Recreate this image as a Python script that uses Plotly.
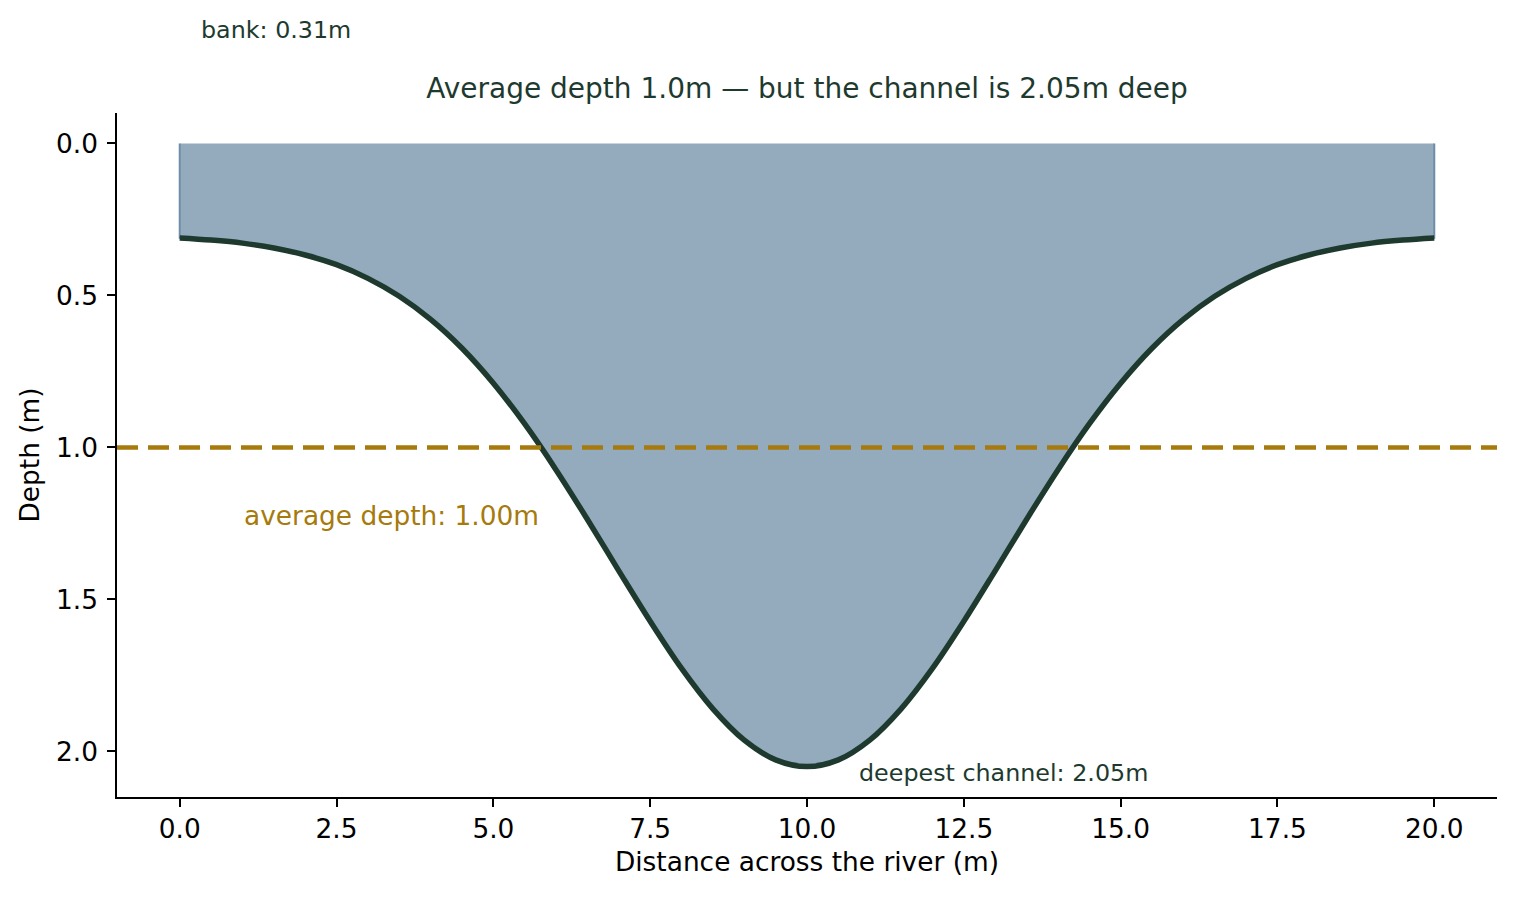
import plotly.graph_objects as go

# distance across the river (m) and measured depth (m)
distance = [0.0, 0.5, 1.0, 1.5, 2.0, 2.5, 3.0, 3.5, 4.0, 4.5, 5.0, 5.5, 6.0, 6.5,
            7.0, 7.5, 8.0, 8.5, 9.0, 9.5, 10.0, 10.5, 11.0, 11.5, 12.0, 12.5,
            13.0, 13.5, 14.0, 14.5, 15.0, 15.5, 16.0, 16.5, 17.0, 17.5, 18.0,
            18.5, 19.0, 19.5, 20.0]
depth = [0.311, 0.318, 0.328, 0.344, 0.367, 0.399, 0.444, 0.503, 0.579, 0.674,
         0.789, 0.923, 1.074, 1.237, 1.406, 1.572, 1.727, 1.860, 1.963, 2.028,
         2.050, 2.028, 1.963, 1.860, 1.727, 1.572, 1.406, 1.237, 1.074, 0.923,
         0.789, 0.674, 0.579, 0.503, 0.444, 0.399, 0.367, 0.344, 0.328, 0.318,
         0.311]
avg_depth = 1.00
max_depth = 2.05
bank_depth = 0.31
x_ticks = [0.0, 2.5, 5.0, 7.5, 10.0, 12.5, 15.0, 17.5, 20.0]
y_ticks = [0.0, 0.5, 1.0, 1.5, 2.0]

dark = "#1e3a2f"
gold = "#a67a0c"
font = "DejaVu Sans"

fig = go.Figure()

# water body: surface at 0 down to the river bed
fig.add_trace(go.Scatter(
    x=[distance[0]] + distance + [distance[-1]],
    y=[0] + depth + [0],
    fill="toself", fillcolor="#94aabd",
    line=dict(color="#6e8ea8", width=2),
    mode="lines", hoverinfo="skip", showlegend=False))

# river bed
fig.add_trace(go.Scatter(
    x=distance, y=depth, mode="lines",
    line=dict(color=dark, width=5.5, shape="spline"),
    hoverinfo="skip", showlegend=False))

fig.add_shape(type="line", xref="paper", x0=0, x1=1, yref="y",
              y0=avg_depth, y1=avg_depth,
              line=dict(color=gold, width=4.5, dash="21px,10px"))

fig.add_annotation(x=1.0, y=1.223, text=f"average depth: {avg_depth:.2f}m",
                   showarrow=False, xanchor="left", yanchor="middle",
                   font=dict(family=font, size=26.4, color=gold))
fig.add_annotation(x=10.8, y=2.072, text=f"deepest channel: {max_depth:.2f}m",
                   showarrow=False, xanchor="left", yanchor="middle",
                   font=dict(family=font, size=23.8, color=dark))
fig.add_annotation(x=0.3, xref="x", y=1.121, yref="paper",
                   text=f"bank: {bank_depth:.2f}m",
                   showarrow=False, xanchor="left", yanchor="middle",
                   font=dict(family=font, size=23.8, color=dark))

# page body adds 8px, so the figure is drawn 8px smaller and shifted
fig.update_layout(
    width=1508, height=890,
    margin=dict(l=109, r=19, t=105, b=101),
    paper_bgcolor="white", plot_bgcolor="white",
    font=dict(family=font, size=26.4, color="black"),
    hovermode=False,
    title=dict(text="Average depth 1.0m — but the channel is 2.05m deep",
               x=0.5, xref="paper", xanchor="center",
               y=1 - 80 / 890, yref="container", yanchor="middle",
               font=dict(family=font, size=28, color=dark)),
    xaxis=dict(title=dict(text="Distance across the river (m)", standoff=9,
                          font=dict(size=26.4)),
               range=[-1, 21], tickvals=x_ticks, tickformat=".1f",
               tickfont=dict(size=26.4),
               showline=True, linecolor="black", linewidth=1.5,
               ticks="outside", ticklen=8, tickwidth=1.5, tickcolor="black",
               showgrid=False, zeroline=False),
    yaxis=dict(title=dict(text="Depth (m)", standoff=9,
                          font=dict(size=26.4)),
               range=[2.15, -0.1], tickvals=y_ticks, tickformat=".1f",
               tickfont=dict(size=26.4), ticklabelstandoff=4,
               showline=True, linecolor="black", linewidth=1.5,
               ticks="outside", ticklen=8, tickwidth=1.5, tickcolor="black",
               showgrid=False, zeroline=False),
)

fig.write_html("out.html")
